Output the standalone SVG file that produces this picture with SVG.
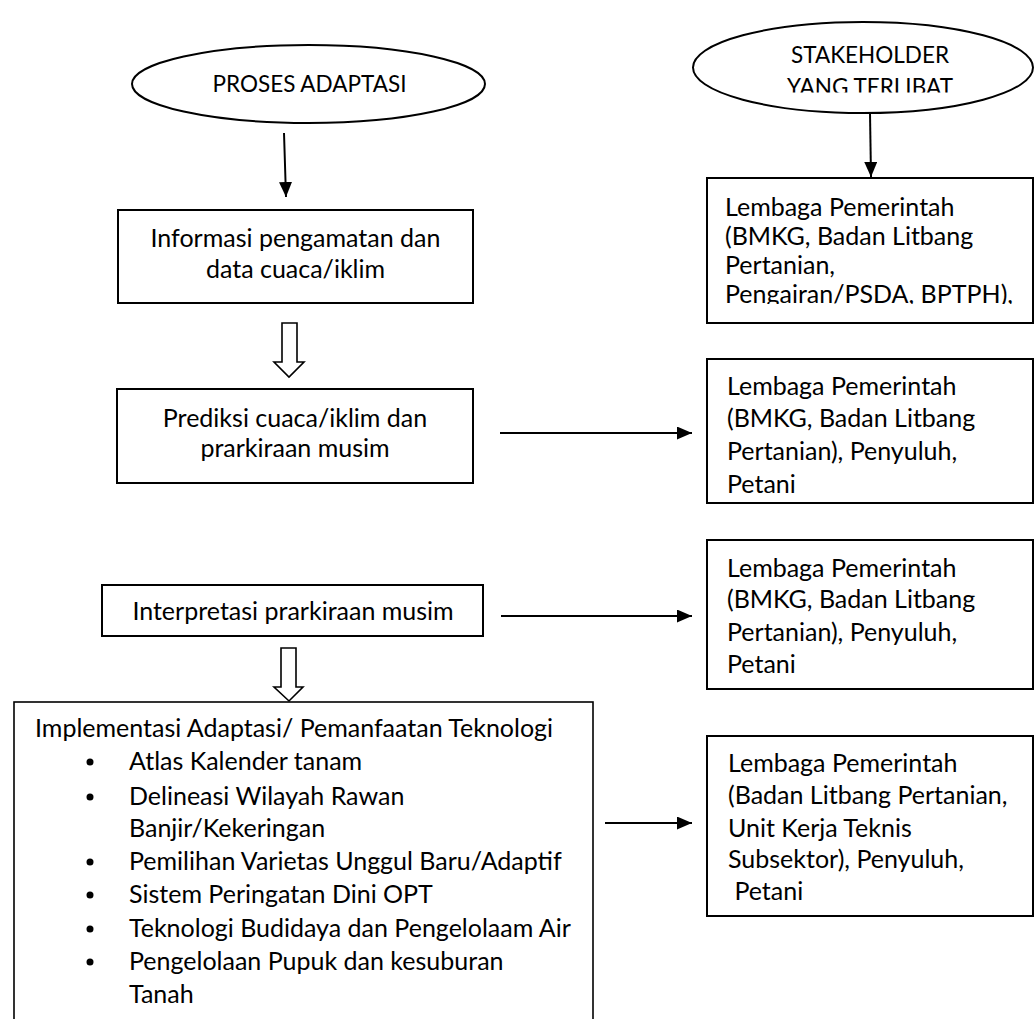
<svg xmlns="http://www.w3.org/2000/svg" width="1035" height="1019" viewBox="0 0 1035 1019">
<style>
  .box { fill: #fff; stroke: #000; stroke-width: 2; }
  .ell { fill: #fff; stroke: #000; stroke-width: 2; }
  .t { font-family: Lato, "Open Sans", sans-serif; font-size: 25px; fill: #000; }
  .e { font-family: Lato, "Open Sans", sans-serif; font-size: 22.5px; fill: #000; text-anchor: middle; }
  .c { text-anchor: middle; }
  .line { stroke: #000; stroke-width: 2; fill: none; }
  .hollow { fill: #fff; stroke: #000; stroke-width: 1.6; stroke-linejoin: miter; }
</style>
<defs>
  <marker id="ah" viewBox="0 0 15 13" refX="15" refY="6.5" markerWidth="15" markerHeight="13" markerUnits="userSpaceOnUse" orient="auto">
    <path d="M0,0 L15,6.5 L0,13 Z" fill="#000"/>
  </marker>
  <clipPath id="clipStake"><rect x="693" y="0" width="342" height="92.5"/></clipPath>
  <clipPath id="clipR1"><rect x="707" y="178" width="326" height="126"/></clipPath>
</defs>
<rect width="1035" height="1019" fill="#fff"/>

<g id="proses-adaptasi">
  <ellipse class="ell" cx="308.5" cy="84" rx="176.5" ry="39"/>
  <text class="e" x="309.5" y="92">PROSES ADAPTASI</text>
</g>

<g id="stakeholder">
  <ellipse class="ell" cx="863" cy="67.5" rx="170" ry="45.5"/>
  <g clip-path="url(#clipStake)">
    <text class="e" x="870" y="63">STAKEHOLDER</text>
    <text class="e" x="870" y="94.5">YANG TERLIBAT</text>
  </g>
</g>

<g id="informasi">
  <rect class="box" x="118" y="210" width="355" height="93"/>
  <text class="t c" x="295.5" y="247">Informasi pengamatan dan</text>
  <text class="t c" x="295.5" y="278">data cuaca/iklim</text>
</g>

<g id="prediksi">
  <rect class="box" x="117" y="389" width="356" height="94"/>
  <text class="t c" x="295" y="427">Prediksi cuaca/iklim dan</text>
  <text class="t c" x="295" y="457">prarkiraan musim</text>
</g>

<g id="interpretasi">
  <rect class="box" x="102" y="585" width="381" height="51"/>
  <text class="t c" x="293" y="620">Interpretasi prarkiraan musim</text>
</g>

<g id="implementasi">
  <rect class="box" x="14" y="702" width="579" height="340" style="stroke-width:1.6"/>
  <text class="t" x="35" y="737">Implementasi Adaptasi/ Pemanfaatan Teknologi</text>
  <g>
    <circle cx="90" cy="762" r="3.5" fill="#000"/>
    <circle cx="90" cy="797" r="3.5" fill="#000"/>
    <circle cx="90" cy="862" r="3.5" fill="#000"/>
    <circle cx="90" cy="895" r="3.5" fill="#000"/>
    <circle cx="90" cy="929" r="3.5" fill="#000"/>
    <circle cx="90" cy="962" r="3.5" fill="#000"/>
  </g>
  <text class="t" x="129" y="770">Atlas Kalender tanam</text>
  <text class="t" x="129" y="805">Delineasi Wilayah Rawan</text>
  <text class="t" x="129" y="837">Banjir/Kekeringan</text>
  <text class="t" x="129" y="870">Pemilihan Varietas Unggul Baru/Adaptif</text>
  <text class="t" x="129" y="903">Sistem Peringatan Dini OPT</text>
  <text class="t" x="129" y="937">Teknologi Budidaya dan Pengelolaam Air</text>
  <text class="t" x="129" y="970">Pengelolaan Pupuk dan kesuburan</text>
  <text class="t" x="129" y="1003">Tanah</text>
</g>

<g id="stakeholder-1">
  <rect class="box" x="707" y="178" width="326" height="145"/>
  <g clip-path="url(#clipR1)">
    <text class="t" x="725" y="216">Lembaga Pemerintah</text>
    <text class="t" x="725" y="245">(BMKG, Badan Litbang</text>
    <text class="t" x="725" y="274">Pertanian,</text>
    <text class="t" x="725" y="303">Pengairan/PSDA, BPTPH),</text>
  </g>
</g>

<g id="stakeholder-2">
  <rect class="box" x="707" y="359" width="326" height="144"/>
  <text class="t" x="727" y="395">Lembaga Pemerintah</text>
  <text class="t" x="727" y="427">(BMKG, Badan Litbang</text>
  <text class="t" x="727" y="460">Pertanian), Penyuluh,</text>
  <text class="t" x="727" y="493">Petani</text>
</g>

<g id="stakeholder-3">
  <rect class="box" x="707" y="540" width="326" height="149"/>
  <text class="t" x="727" y="577">Lembaga Pemerintah</text>
  <text class="t" x="727" y="608">(BMKG, Badan Litbang</text>
  <text class="t" x="727" y="641">Pertanian), Penyuluh,</text>
  <text class="t" x="727" y="673">Petani</text>
</g>

<g id="stakeholder-4">
  <rect class="box" x="707" y="736" width="326" height="180"/>
  <text class="t" x="728" y="772">Lembaga Pemerintah</text>
  <text class="t" x="728" y="804">(Badan Litbang Pertanian,</text>
  <text class="t" x="728" y="837">Unit Kerja Teknis</text>
  <text class="t" x="728" y="868">Subsektor), Penyuluh,</text>
  <text class="t" x="728" y="900" xml:space="preserve"> Petani</text>
</g>

<g id="connectors">
  <line class="line" x1="284" y1="133" x2="286" y2="197" marker-end="url(#ah)"/>
  <line class="line" x1="870" y1="113" x2="871" y2="177" marker-end="url(#ah)"/>
  <path class="hollow" d="M282,323 H297 V362 H304 L289,377 L274,362 H282 Z"/>
  <path class="hollow" d="M281,648 H296 V687 H303 L289,701 L274,687 H281 Z"/>
  <line class="line" x1="500" y1="433" x2="692" y2="433" marker-end="url(#ah)"/>
  <line class="line" x1="501" y1="616" x2="692" y2="616" marker-end="url(#ah)"/>
  <line class="line" x1="605" y1="823" x2="692" y2="823" marker-end="url(#ah)"/>
</g>
</svg>
